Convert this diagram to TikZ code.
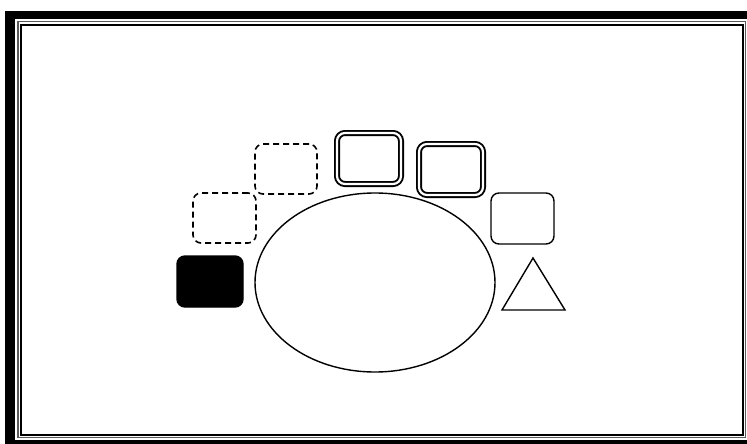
\documentclass[tikz,border=0pt]{standalone}
\usetikzlibrary{shapes.geometric}
\begin{document}
\begin{tikzpicture}[x=1pt,y=-1pt,
  shape line/.style={draw=black,line width=1.4pt},
  roundbox/.style={shape line,rounded corners=8pt,inner sep=0pt},
  dashbox/.style={roundbox,line width=1.6pt,dash pattern=on 6pt off 4pt},
  dblbox/.style={draw=black,rounded corners=8pt,inner sep=0pt,line width=1.9pt,double=white,double distance=2.2pt},
  solidbox/.style={roundbox,fill=black}]
\useasboundingbox (0,0) rectangle (747,444);
\clip (0,0) rectangle (747,444);
% frame
\fill[black] (5,11) rectangle (800,500);
\fill[white] (15,19) rectangle (747,440);
\draw[gray!70!black,line width=1.2pt] (18,21.5) rectangle (745.5,437.5);
\draw[black,line width=2pt] (21,25) rectangle (743,435);
% shapes
\node[dashbox,minimum width=63pt,minimum height=50pt] (d1) at (224.5,218) {};
\node[dashbox,minimum width=62pt,minimum height=50pt] (d2) at (286,169) {};
\node[dblbox,minimum width=64pt,minimum height=51pt] (b1) at (369,158.5) {};
\node[dblbox,minimum width=64pt,minimum height=51pt] (b2) at (451,169.5) {};
\node[roundbox,minimum width=63pt,minimum height=51pt] (r1) at (522.5,218.5) {};
\node[solidbox,minimum width=66pt,minimum height=51pt] (s1) at (210,281.5) {};
\node[shape line,ellipse,inner sep=0pt,minimum width=240pt,minimum height=179pt] (e1) at (375,282.5) {};
\coordinate (t1) at (533,258);
\coordinate (t2) at (565,310);
\coordinate (t3) at (502,310);
\draw[shape line,line join=miter] (t1) -- (t2) -- (t3) -- cycle;
\end{tikzpicture}
\end{document}
